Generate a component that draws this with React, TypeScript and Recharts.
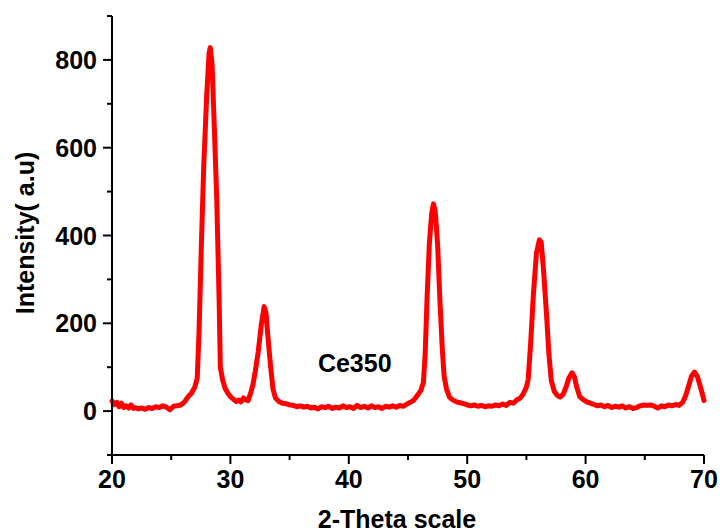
import { LineChart, Line, XAxis, YAxis, ReferenceDot, Label } from 'recharts';

// 2-theta positions (deg) and intensity (a.u.)
const twoTheta = [
  20.0, 20.2, 20.4, 20.6, 20.8, 21.0, 21.2, 21.4, 21.6, 21.8, 22.0, 22.2, 22.5, 22.8, 23.1, 23.4, 23.7, 24.0, 24.3, 24.6,
  24.9, 25.2, 25.5, 25.8, 26.1, 26.4, 26.7, 27.0, 27.2, 27.35, 27.55, 27.75, 28.0, 28.2, 28.3, 28.45, 28.65, 28.85, 29.05, 29.15,
  29.35, 29.55, 29.8, 30.0, 30.25, 30.5, 30.7, 30.9, 31.1, 31.3, 31.5, 31.7, 31.9, 32.1, 32.35, 32.6, 32.85, 33.0, 33.2, 33.4,
  33.6, 33.8, 34.1, 34.4, 34.7, 35.0, 35.3, 35.6, 35.9, 36.2, 36.5, 36.8, 37.1, 37.4, 37.7, 38.0, 38.3, 38.6, 38.9, 39.2,
  39.5, 39.8, 40.1, 40.4, 40.7, 41.0, 41.3, 41.6, 41.9, 42.2, 42.5, 42.8, 43.1, 43.4, 43.7, 44.0, 44.3, 44.6, 44.9, 45.2,
  45.5, 45.8, 46.1, 46.3, 46.45, 46.6, 46.8, 47.0, 47.15, 47.3, 47.5, 47.7, 47.9, 48.05, 48.25, 48.5, 48.8, 49.1, 49.4, 49.7,
  50.0, 50.3, 50.6, 50.9, 51.2, 51.5, 51.8, 52.1, 52.4, 52.7, 53.0, 53.3, 53.6, 53.9, 54.2, 54.5, 54.75, 55.0, 55.15, 55.35,
  55.6, 55.85, 56.1, 56.25, 56.45, 56.7, 56.9, 57.1, 57.35, 57.6, 57.85, 58.1, 58.35, 58.6, 58.85, 59.05, 59.25, 59.5, 59.8, 60.1,
  60.4, 60.7, 61.0, 61.3, 61.6, 61.9, 62.2, 62.5, 62.8, 63.1, 63.4, 63.7, 64.0, 64.3, 64.6, 64.9, 65.2, 65.5, 65.8, 66.1,
  66.4, 66.7, 67.0, 67.3, 67.6, 67.9, 68.2, 68.45, 68.7, 68.95, 69.2, 69.45, 69.7, 69.9, 70.0,
];
const intensity = [
  23, 15, 20, 10, 18, 8, 12, 7, 14, 6, 8, 5, 7, 4, 8, 6, 10, 8, 12, 9,
  3, 11, 12, 14, 20, 32, 40, 55, 75, 180, 380, 560, 720, 815, 828, 790, 640, 480, 250, 100,
  70, 52, 40, 33, 27, 22, 25, 21, 30, 26, 24, 40, 60, 90, 135, 195, 238, 225, 160, 100,
  50, 30, 22, 18, 17, 14, 13, 10, 12, 9, 11, 7, 9, 5, 10, 8, 11, 6, 9, 7,
  12, 8, 10, 6, 13, 8, 11, 7, 12, 8, 10, 6, 11, 9, 12, 9, 13, 11, 16, 20,
  25, 36, 48, 65, 130, 250, 380, 450, 472, 455, 380, 250, 140, 80, 50, 32, 25, 21, 19, 17,
  14, 12, 14, 11, 13, 10, 12, 11, 14, 12, 16, 13, 20, 18, 26, 30, 40, 55, 72, 150,
  270, 360, 390, 385, 320, 220, 130, 70, 45, 36, 32, 38, 55, 76, 87, 78, 55, 33, 26, 21,
  18, 15, 12, 14, 10, 13, 8, 11, 9, 12, 7, 10, 6, 8, 12, 14, 13, 14, 11, 7,
  12, 10, 14, 12, 15, 13, 20, 35, 57, 80, 89, 78, 55, 35, 24,
];

const xTicks = [20, 25, 30, 35, 40, 45, 50, 55, 60, 65, 70];
const xLabelled = [20, 30, 40, 50, 60, 70];
const yTicks = [-100, 0, 100, 200, 300, 400, 500, 600, 700, 800, 900];
const yLabelled = [0, 200, 400, 600, 800];

const sampleName = 'Ce350';
const samplePos = { t: 40.5, v: 109 };

const data = twoTheta.map((t, i) => ({ t, v: intensity[i] }));

const FONT = '"Liberation Sans", Arial, Helvetica, sans-serif';
const FS = 25;

function XTick(props: any) {
  const { x, y, payload } = props;
  const major = xLabelled.includes(payload.value);
  return (
    <g>
      <line x1={x} x2={x} y1={y} y2={y + (major ? 9 : 5)} stroke="#000" strokeWidth={2} />
      {major && (
        <text x={x} y={y + 33} textAnchor="middle" fontFamily={FONT} fontWeight="bold" fontSize={FS} fill="#000">
          {payload.value}
        </text>
      )}
    </g>
  );
}

function YTick(props: any) {
  const { x, y, payload } = props;
  const major = yLabelled.includes(payload.value);
  return (
    <g>
      <line x1={x} x2={x - (major ? 9 : 5)} y1={y} y2={y} stroke="#000" strokeWidth={2} />
      {major && (
        <text x={x - 15} y={y + 9} textAnchor="end" fontFamily={FONT} fontWeight="bold" fontSize={FS} fill="#000">
          {payload.value}
        </text>
      )}
    </g>
  );
}

export default function App() {
  return (
    <div style={{ position: 'absolute', left: 0, top: 0, width: 720, height: 532 }}>
      <LineChart width={720} height={532} data={data} margin={{ top: 16, right: 16, bottom: 0, left: 0 }}>
        <XAxis
          dataKey="t"
          type="number"
          domain={[20, 70]}
          ticks={xTicks}
          interval={0}
          height={77}
          tickSize={0}
          tickMargin={0}
          tickLine={false}
          tick={XTick}
          axisLine={{ stroke: '#000', strokeWidth: 2 }}
        >
          <Label
            content={(p: any) => (
              <text
                x={397}
                y={p.viewBox.y + 73}
                textAnchor="middle"
                fontFamily={FONT}
                fontWeight="bold"
                fontSize={FS}
                fill="#000"
              >
                2-Theta scale
              </text>
            )}
          />
        </XAxis>
        <YAxis
          type="number"
          domain={[-100, 900]}
          ticks={yTicks}
          interval={0}
          width={112}
          tickSize={0}
          tickMargin={0}
          tickLine={false}
          tick={YTick}
          axisLine={{ stroke: '#000', strokeWidth: 2 }}
        >
          <Label
            content={(p: any) => {
              const cx = 25;
              const cy = 233;
              return (
                <text
                  x={cx}
                  y={cy}
                  transform={`rotate(-90, ${cx}, ${cy})`}
                  textAnchor="middle"
                  dominantBaseline="central"
                  fontFamily={FONT}
                  fontWeight="bold"
                  fontSize={FS}
                  fill="#000"
                >
                  Intensity( a.u)
                </text>
              );
            }}
          />
        </YAxis>
        <Line
          type="linear"
          dataKey="v"
          stroke="#ff0000"
          strokeWidth={5}
          strokeLinejoin="round"
          strokeLinecap="round"
          dot={false}
          activeDot={false}
          isAnimationActive={false}
        />
        <ReferenceDot
          x={samplePos.t}
          y={samplePos.v}
          r={0}
          stroke="none"
          fill="none"
          label={{ value: sampleName, position: 'center', fontFamily: FONT, fontWeight: 'bold', fontSize: FS, fill: '#000' }}
        />
      </LineChart>
    </div>
  );
}
